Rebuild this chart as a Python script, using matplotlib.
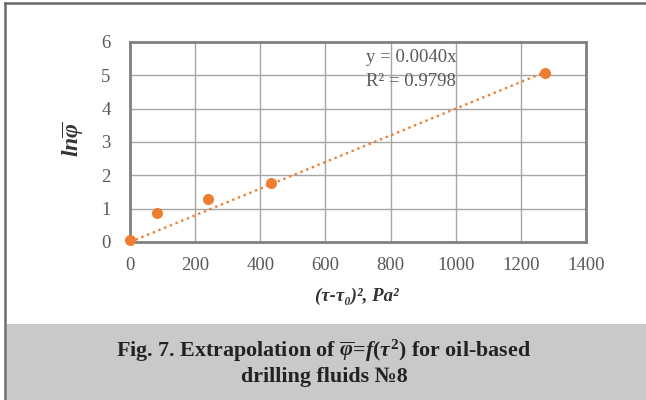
import matplotlib.pyplot as plt
from matplotlib.patches import Rectangle
from matplotlib.lines import Line2D
import numpy as np

# data
shear_sq = [0, 83, 240, 432, 1273]
ln_phi = [0.05, 0.87, 1.29, 1.78, 5.08]
slope = 0.0040
r_squared = 0.9798
x_ticks = [0, 200, 400, 600, 800, 1000, 1200, 1400]
y_ticks = [0, 1, 2, 3, 4, 5, 6]

plt.rcParams['font.family'] = ['Liberation Serif', 'DejaVu Serif']
plt.rcParams['mathtext.fontset'] = 'custom'
plt.rcParams['mathtext.it'] = 'Liberation Serif:italic:bold'
plt.rcParams['mathtext.rm'] = 'Liberation Serif:bold'
plt.rcParams['mathtext.bf'] = 'Liberation Serif:bold'

orange = '#ED7D31'
txt_gray = '#595959'

fig = plt.figure(figsize=(6.46, 4.0), dpi=100)

# outer frame and caption band
fig.add_artist(Rectangle((7 / 646, 0), 1, 76 / 400, transform=fig.transFigure,
                         facecolor='#c9c9cb', edgecolor='none', zorder=0))
fig.add_artist(Line2D([5 / 646, 5 / 646], [0, 1 - 3 / 400], transform=fig.transFigure,
                      color='#6a6a6a', lw=1.8))
fig.add_artist(Line2D([5 / 646, 1], [1 - 3 / 400, 1 - 3 / 400], transform=fig.transFigure,
                      color='#6a6a6a', lw=1.8))

ax = fig.add_axes([130 / 646, 1 - 242 / 400, 456 / 646, 200 / 400])

# trendline through origin
xs = np.array([0, shear_sq[-1]])
ax.plot(xs, slope * xs, color=orange, lw=1.7, linestyle=(0, (1, 1.6)), zorder=3)
ax.scatter(shear_sq, ln_phi, s=48, color=orange, zorder=4, clip_on=False)

ax.set_xlim(0, 1400)
ax.set_ylim(0, 6)
ax.set_xticks(x_ticks)
ax.set_yticks(y_ticks)
ax.grid(True, color='#a6a6a6', lw=1.0)
ax.set_axisbelow(True)
for s in ax.spines.values():
    s.set_color('#808080')
    s.set_linewidth(2.0)
ax.tick_params(length=0, labelsize=13.5, labelcolor=txt_gray, pad=14)
ax.tick_params(axis='x', pad=11)

ax.text(725, 5.52, 'y = 0.0040x', fontsize=13.5, color=txt_gray, va='center')
ax.text(725, 4.8, 'R² = %.4f' % r_squared, fontsize=13.5, color=txt_gray, va='center')

fig.text(73 / 646, 1 - 139 / 400, r'$ln\overline{\varphi}$', rotation=90,
         fontsize=17, color='#333333', ha='center', va='center')
fig.text(357 / 646, 1 - 296 / 400, '(τ-τ₀)², Pa²', fontstyle='italic', fontweight='bold',
         fontsize=13.5, color='#333333', ha='center', va='center')

fig.text(324 / 646, 1 - 351 / 400,
         r'Fig. 7. Extrapolation of $\overline{\varphi}$=$f$($\tau^2$) for oil-based',
         fontsize=15.8, fontweight='bold', color='#222222', ha='center', va='center')
fig.text(324 / 646, 1 - 377 / 400, 'drilling fluids №8',
         fontsize=15.8, fontweight='bold', color='#222222', ha='center', va='center')

fig.savefig('out.png', dpi=100)
